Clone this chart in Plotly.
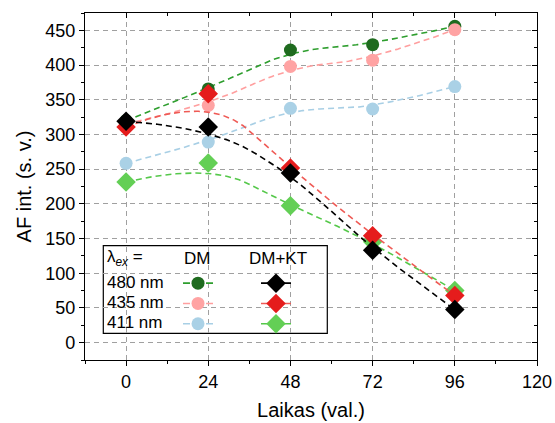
import numpy as np
import plotly.graph_objects as go

# ---------------- data ----------------
hours = [0, 24, 48, 72, 96]
wavelength_labels = ["480 nm", "435 nm", "411 nm"]

dm_480 = [320, 365.6, 421.7, 429.4, 455.8]
dm_435 = [315, 342, 398, 407, 451]
dm_411 = [258.4, 289, 337.6, 336.7, 369]

dmkt_480 = [319, 310.8, 244.5, 133, 47.6]
dmkt_435 = [310.8, 358.8, 251.7, 154, 68]
dmkt_411 = [231.5, 259, 197.4, 145.5, 75]

x_ticks = [0, 24, 48, 72, 96, 120]
y_ticks = [0, 50, 100, 150, 200, 250, 300, 350, 400, 450]


# ---------------- B-spline connecting line (Origin style) ----------------
def bspline(xs, ys, p=2, n=300):
    c = np.column_stack([xs, ys]).astype(float)
    m = len(c)
    interior = np.linspace(0, 1, m - p + 1)[1:-1]
    t = np.concatenate([[0.0] * (p + 1), interior, [1.0] * (p + 1)])
    out = []
    for u in np.linspace(0, 1, n):
        if u >= 1:
            out.append(c[-1])
            continue
        k = int(np.searchsorted(t, u, side="right") - 1)
        d = [c[j + k - p].copy() for j in range(p + 1)]
        for r in range(1, p + 1):
            for j in range(p, r - 1, -1):
                den = t[j + 1 + k - r] - t[j + k - p]
                a = 0 if den == 0 else (u - t[j + k - p]) / den
                d[j] = (1 - a) * d[j - 1] + a * d[j]
        out.append(d[p])
    out = np.array(out)
    return out[:, 0], out[:, 1]


FONT = "Liberation Sans, Arial, sans-serif"
DASH = "6px,4px"

series = [
    # values, marker colour, line colour, symbol, size, legend, rank
    (dm_480, "#1f6b1f", "#2e9e2e", "circle", 13, "legend", 1),
    (dm_435, "#ffa3a3", "#ff9f9f", "circle", 13, "legend", 2),
    (dm_411, "#aad1e6", "#a8cfe5", "circle", 13, "legend", 3),
    (dmkt_411, "#63cf55", "#55c84a", "diamond", 15, "legend2", 3),
    (dmkt_435, "#e51c1c", "#ef5a55", "diamond", 15, "legend2", 2),
    (dmkt_480, "#000000", "#000000", "diamond", 15, "legend2", 1),
]

fig = go.Figure()
for vals, mcol, lcol, sym, size, leg, rank in series:
    sx, sy = bspline(hours, vals)
    fig.add_trace(go.Scatter(x=sx, y=sy, mode="lines",
                             line=dict(color=lcol, width=1.6, dash=DASH),
                             showlegend=False, hoverinfo="skip"))
    fig.add_trace(go.Scatter(x=hours, y=vals, mode="markers",
                             marker=dict(color=mcol, symbol=sym, size=size,
                                         line=dict(width=0)),
                             showlegend=False))
    # legend-only entry: dashed line segment with the marker in the middle
    fig.add_trace(go.Scatter(x=[None], y=[None], mode="lines+markers",
                             line=dict(color=lcol, width=1.6, dash="7px,16px"),
                             marker=dict(color=mcol, symbol=sym, size=size,
                                         line=dict(width=0)),
                             name=" ", legend=leg, legendrank=rank,
                             showlegend=True, hoverinfo="skip"))

# dummy trace for mirrored inner-tick axes
fig.add_trace(go.Scatter(x=[None], y=[None], xaxis="x2", yaxis="y2",
                         showlegend=False, hoverinfo="skip"))

W, H = 555, 423
ML, MR, MT, MB = 85, 18, 13, 63
PW, PH = W - ML - MR, H - MT - MB


def px(xpage):
    return (xpage - ML) / PW


def py(ypage):
    return (H - MB - ypage) / PH


axis_common = dict(showline=True, linecolor="black", linewidth=1.3,
                   tickcolor="black", tickwidth=1.2, zeroline=False)
tick_font = dict(family=FONT, size=18, color="black")

fig.update_layout(
    width=W, height=H,
    margin=dict(l=ML, r=MR, t=MT, b=MB),
    paper_bgcolor="white", plot_bgcolor="white",
    font=dict(family=FONT, color="black"),
    xaxis=dict(range=[-12, 120], tickvals=x_ticks, ticks="outside", ticklen=5,
               tickfont=tick_font,
               showgrid=True, gridcolor="#a0a0a0", gridwidth=1, griddash="5px,4px",
               minor=dict(dtick=12, tick0=0, ticks="outside", ticklen=3,
                          tickcolor="black", showgrid=False),
               title=dict(text="Laikas (val.)", font=dict(family=FONT, size=20),
                          standoff=12),
               automargin=False, **axis_common),
    yaxis=dict(range=[-25, 475], tickvals=y_ticks, ticks="outside", ticklen=5,
               tickfont=tick_font,
               showgrid=True, gridcolor="#a0a0a0", gridwidth=1, griddash="5px,4px",
               minor=dict(dtick=25, tick0=0, ticks="outside", ticklen=3,
                          tickcolor="black", showgrid=False),
               title=dict(text="AF int. (s. v.)", font=dict(family=FONT, size=20),
                          standoff=8),
               automargin=False, **axis_common),
    xaxis2=dict(overlaying="x", side="top", range=[-12, 120], tickvals=x_ticks,
                ticks="inside", ticklen=5, showticklabels=False, showgrid=False,
                minor=dict(dtick=12, tick0=0, ticks="inside", ticklen=3,
                           tickcolor="black"),
                **axis_common),
    yaxis2=dict(overlaying="y", side="right", range=[-25, 475], tickvals=y_ticks,
                ticks="inside", ticklen=5, showticklabels=False, showgrid=False,
                minor=dict(dtick=25, tick0=0, ticks="inside", ticklen=3,
                           tickcolor="black"),
                **axis_common),
    legend=dict(x=px(178), y=py(268), xanchor="left", yanchor="top",
                bgcolor="rgba(0,0,0,0)", borderwidth=0, tracegroupgap=0,
                font=dict(family=FONT, size=13.3), itemwidth=30,
                traceorder="normal"),
    legend2=dict(x=px(256), y=py(268), xanchor="left", yanchor="top",
                 bgcolor="rgba(0,0,0,0)", borderwidth=0, tracegroupgap=0,
                 font=dict(family=FONT, size=13.3), itemwidth=30,
                 traceorder="normal"),
    showlegend=True,
)

# legend frame and its text labels
fig.add_shape(type="rect", xref="paper", yref="paper",
              x0=px(103.3), x1=px(327.3), y0=py(333.3), y1=py(245.7),
              line=dict(color="black", width=1.2), fillcolor="white", layer="below")

ann_font = dict(family=FONT, size=17, color="black")
fig.add_annotation(x=px(105), y=py(258), xref="paper", yref="paper",
                   text="λ<sub><i>ex</i></sub> =", showarrow=False,
                   xanchor="left", yanchor="middle", font=ann_font)
fig.add_annotation(x=px(197), y=py(258), xref="paper", yref="paper",
                   text="DM", showarrow=False, xanchor="center",
                   yanchor="middle", font=ann_font)
fig.add_annotation(x=px(278), y=py(258), xref="paper", yref="paper",
                   text="DM+KT", showarrow=False, xanchor="center",
                   yanchor="middle", font=ann_font)
for i, lab in enumerate(wavelength_labels):
    fig.add_annotation(x=px(105), y=py(282.3 + 20.3 * i), xref="paper", yref="paper",
                       text=lab, showarrow=False, xanchor="left",
                       yanchor="middle", font=ann_font)

# remove the default 8 px page margin so the figure fills the window exactly
fig.write_html("out.html",
               config={"displayModeBar": False},
               post_script="document.body.style.margin='0';"
                           "document.documentElement.style.overflow='hidden';")
